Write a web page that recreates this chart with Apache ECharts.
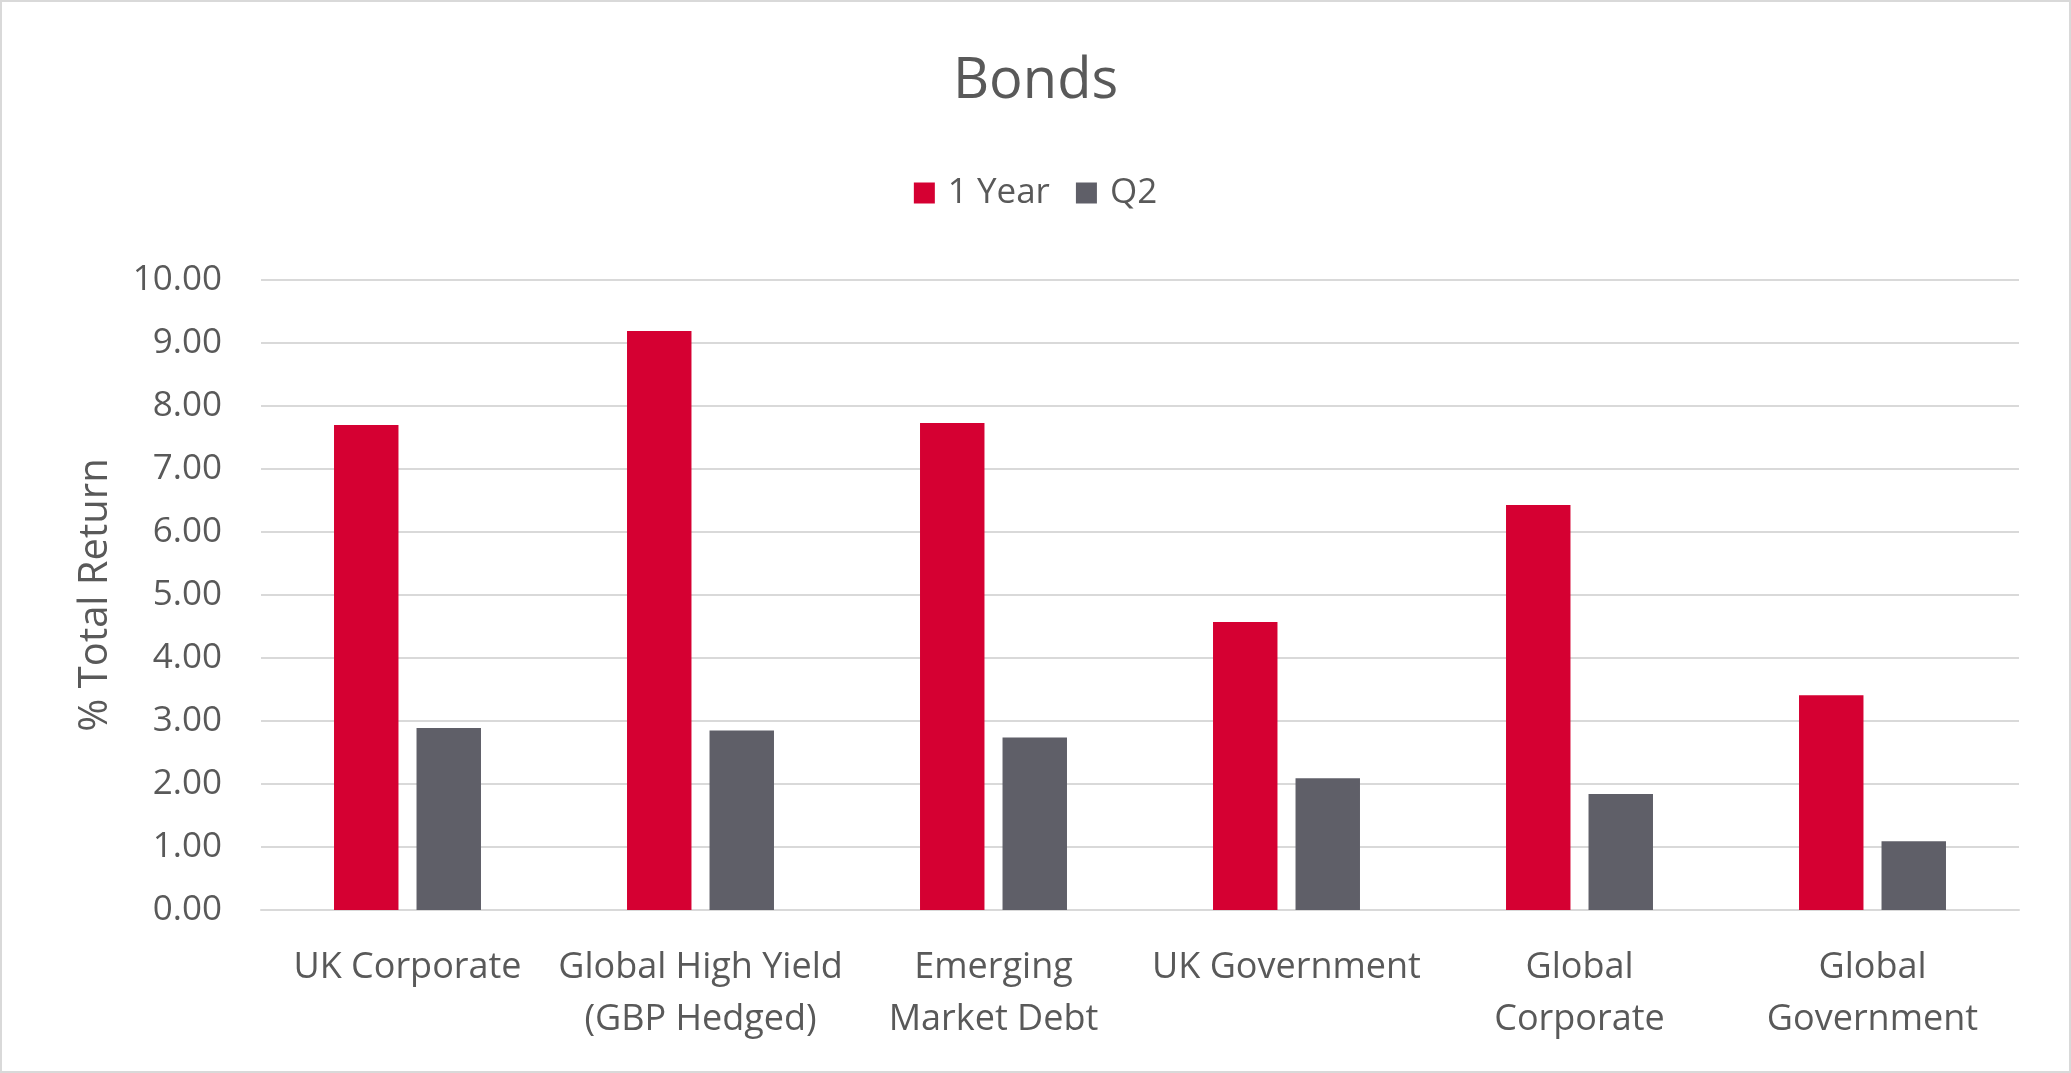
<!DOCTYPE html>
<html>
<head>
<meta charset="utf-8">
<title>Bonds</title>
<script src="https://cdn.jsdelivr.net/npm/echarts@6/dist/echarts.min.js"></script>
<style>
  html, body { margin: 0; padding: 0; background: #fff; }
  #bondsBar { width: 2071px; height: 1073px; }
</style>
</head>
<body>
<div id="bondsBar"></div>
<script>
// categories and values
var categories = ['UK Corporate', 'Global High Yield\n(GBP Hedged)', 'Emerging\nMarket Debt',
  'UK Government', 'Global\nCorporate', 'Global\nGovernment'];
var oneYear = [7.70, 9.19, 7.73, 4.57, 6.43, 3.41];
var q2 = [2.89, 2.85, 2.74, 2.09, 1.84, 1.09];
var seriesNames = ['1 Year', 'Q2'];

var textColor = '#595959';
var font = '"Open Sans", "Noto Sans", sans-serif';

var option = {
  textStyle: { fontFamily: font, color: textColor },
  graphic: [{
    type: 'rect',
    shape: { x: 1, y: 1, width: 2069, height: 1071 },
    style: { fill: 'none', stroke: '#d9d9d9', lineWidth: 2 },
    silent: true
  }],
  title: {
    text: 'Bonds',
    left: 'center',
    top: 46,
    textStyle: { fontFamily: font, fontSize: 56, fontWeight: 'normal', color: textColor, lineHeight: 62 }
  },
  legend: {
    top: 168,
    left: 'center',
    icon: 'rect',
    itemWidth: 21,
    itemHeight: 21,
    itemGap: 26,
    textStyle: { fontFamily: font, fontSize: 35, color: textColor, lineHeight: 40, padding: [0, 0, 0, 8] },
    data: seriesNames
  },
  grid: { left: 261, right: 52, top: 280, bottom: 163 },
  xAxis: {
    type: 'category',
    data: categories,
    axisLine: { lineStyle: { color: '#d9d9d9', width: 2 } },
    axisTick: { show: false },
    axisLabel: {
      interval: 0,
      margin: 32,
      fontFamily: font,
      fontSize: 36,
      lineHeight: 52,
      color: textColor
    }
  },
  yAxis: {
    type: 'value',
    min: 0,
    max: 10,
    interval: 1,
    name: '% Total Return',
    nameLocation: 'middle',
    nameGap: 145,
    nameTextStyle: { fontFamily: font, fontSize: 40, color: textColor },
    axisLine: { show: false },
    axisTick: { show: false },
    splitLine: { lineStyle: { color: '#d9d9d9', width: 2 } },
    axisLabel: {
      margin: 39,
      fontFamily: font,
      fontSize: 35,
      color: textColor,
      formatter: function (v) { return v.toFixed(2); }
    }
  },
  series: [
    {
      name: seriesNames[0],
      type: 'bar',
      data: oneYear,
      barWidth: '22%',
      barGap: '28%',
      itemStyle: { color: '#d50032' }
    },
    {
      name: seriesNames[1],
      type: 'bar',
      data: q2,
      barWidth: '22%',
      itemStyle: { color: '#5f5f68' }
    }
  ]
};

var chart = echarts.init(document.getElementById('bondsBar'));
chart.setOption(option);
</script>
</body>
</html>
